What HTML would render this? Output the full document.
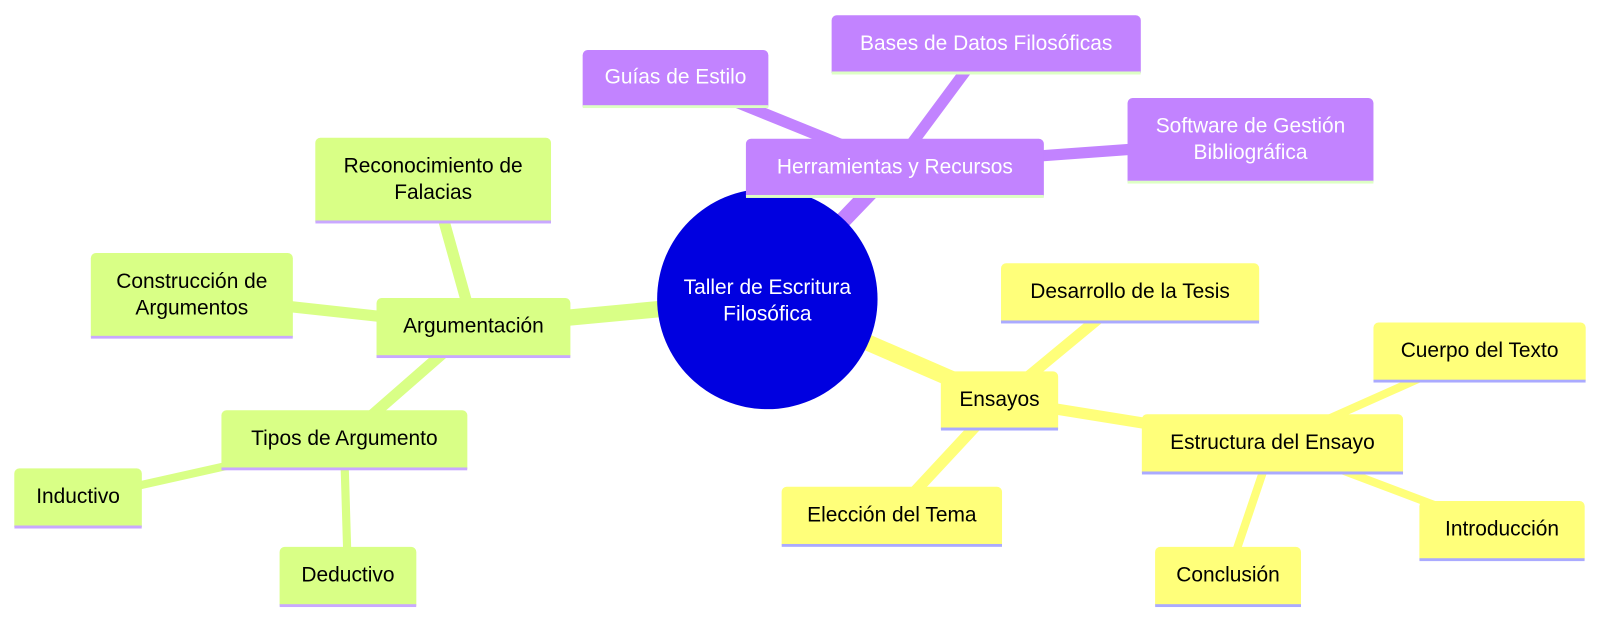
<!DOCTYPE html>
<html><head><meta charset="utf-8"><style>
body{margin:0;width:1600px;height:620px;background:#fff;position:relative;overflow:hidden;font-family:"Liberation Sans",sans-serif}
#w{position:absolute;left:0;top:0;width:1568px;height:608px;transform:scale(1.0204);transform-origin:0 0}
.n{position:absolute;box-sizing:border-box;border-radius:5px 5px 0 0;display:flex;align-items:center;justify-content:center;text-align:center;font-size:20.5px;line-height:26px}
.p{background:#c283ff;color:#fff;border-bottom:3px solid #ddffc4}
.g{background:#d9ff86;color:#000;border-bottom:3px solid #c9a8ff}
.y{background:#ffff7a;color:#000;border-bottom:3px solid #aaaaff}
svg{position:absolute;left:0;top:0}
</style></head><body><div id="w">
<svg width="1568" height="608">
<g stroke-linecap="round">
<g stroke="#c283ff">
<line x1="752" y1="293" x2="877" y2="163" stroke-width="16"/>
<line x1="877" y1="163" x2="662" y2="76" stroke-width="11"/>
<line x1="877" y1="163" x2="966" y2="43" stroke-width="11"/>
<line x1="877" y1="163" x2="1225" y2="138" stroke-width="11"/>
</g>
<g stroke="#d9ff86">
<line x1="752" y1="293" x2="464" y2="320" stroke-width="16"/>
<line x1="464" y1="320" x2="424" y2="177" stroke-width="11"/>
<line x1="464" y1="320" x2="188" y2="290" stroke-width="11"/>
<line x1="464" y1="320" x2="337" y2="431" stroke-width="11"/>
<line x1="337" y1="431" x2="77" y2="489" stroke-width="8"/>
<line x1="337" y1="431" x2="341" y2="565" stroke-width="8"/>
</g>
<g stroke="#ffff7a">
<line x1="752" y1="293" x2="980" y2="392" stroke-width="16"/>
<line x1="980" y1="392" x2="1107" y2="287" stroke-width="11"/>
<line x1="980" y1="392" x2="874" y2="506" stroke-width="11"/>
<line x1="980" y1="392" x2="1247" y2="435" stroke-width="11"/>
<line x1="1247" y1="435" x2="1449" y2="345" stroke-width="8"/>
<line x1="1247" y1="435" x2="1472" y2="520" stroke-width="8"/>
<line x1="1247" y1="435" x2="1203" y2="565" stroke-width="8"/>
</g>
</g>
<circle cx="752" cy="293" r="108" fill="#0000e0"/>
<text x="752" y="288" fill="#fff" font-family="Liberation Sans,sans-serif" font-size="20.5" text-anchor="middle">Taller de Escritura</text>
<text x="752" y="314" fill="#fff" font-family="Liberation Sans,sans-serif" font-size="20.5" text-anchor="middle">Filosófica</text>
</svg>
<div class="n p" style="left:731px;top:136px;width:292px;height:58px">Herramientas y Recursos</div>
<div class="n p" style="left:571px;top:49px;width:182px;height:57px">Guías de Estilo</div>
<div class="n p" style="left:815px;top:15px;width:303px;height:58px">Bases de Datos Filosóficas</div>
<div class="n p" style="left:1105px;top:96px;width:241px;height:84px">Software de Gestión<br>Bibliográfica</div>
<div class="n g" style="left:369px;top:292px;width:190px;height:59px">Argumentación</div>
<div class="n g" style="left:309px;top:135px;width:231px;height:84px">Reconocimiento de<br>Falacias</div>
<div class="n g" style="left:89px;top:248px;width:198px;height:84px">Construcción de<br>Argumentos</div>
<div class="n g" style="left:217px;top:402px;width:241px;height:59px">Tipos de Argumento</div>
<div class="n g" style="left:14px;top:459px;width:125px;height:59px">Inductivo</div>
<div class="n g" style="left:274px;top:536px;width:134px;height:59px">Deductivo</div>
<div class="n y" style="left:922px;top:364px;width:115px;height:58px">Ensayos</div>
<div class="n y" style="left:981px;top:258px;width:253px;height:59px">Desarrollo de la Tesis</div>
<div class="n y" style="left:766px;top:477px;width:216px;height:59px">Elección del Tema</div>
<div class="n y" style="left:1119px;top:406px;width:256px;height:59px">Estructura del Ensayo</div>
<div class="n y" style="left:1346px;top:316px;width:208px;height:59px">Cuerpo del Texto</div>
<div class="n y" style="left:1391px;top:491px;width:162px;height:59px">Introducción</div>
<div class="n y" style="left:1132px;top:536px;width:143px;height:59px">Conclusión</div>
</div></body></html>
